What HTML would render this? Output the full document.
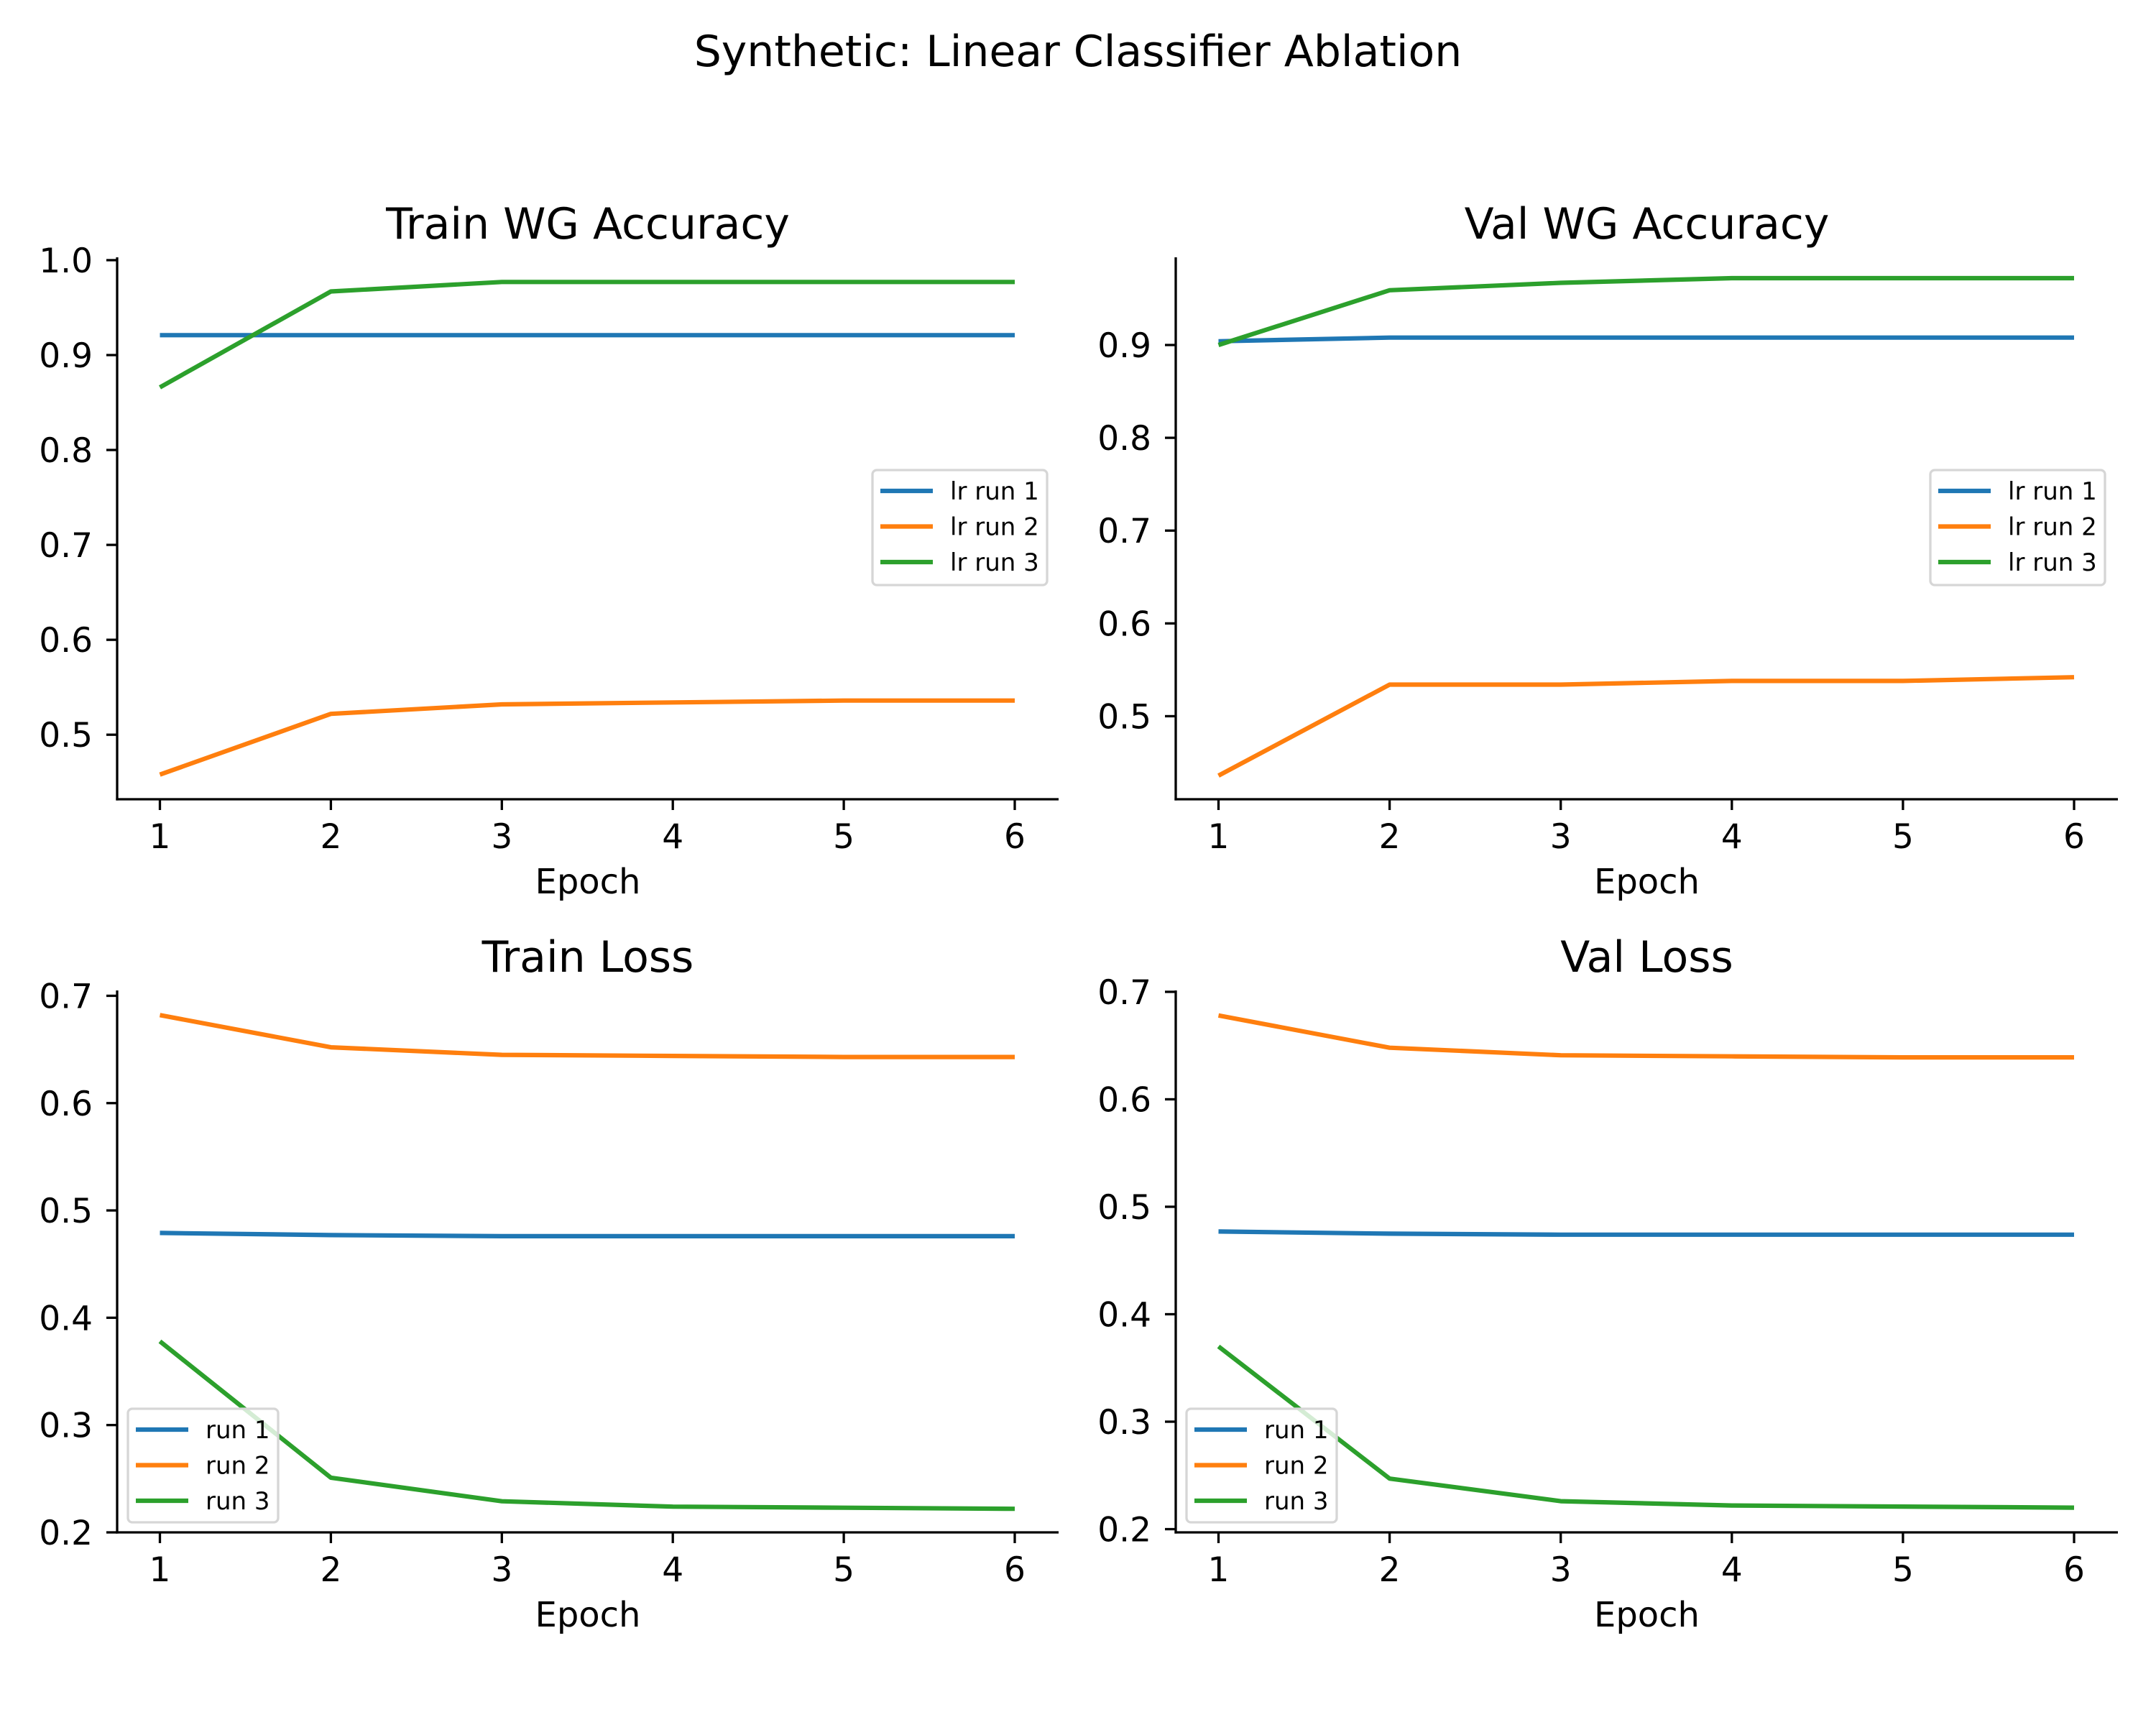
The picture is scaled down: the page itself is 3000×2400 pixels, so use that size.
<!DOCTYPE html>
<html><head><meta charset="utf-8"><style>
html,body{margin:0;padding:0;background:#fff;}
svg{display:block;font-family:"DejaVu Sans","Liberation Sans",sans-serif;}
</style></head><body>
<svg id="fig" width="3000" height="2400" viewBox="0 0 3000 2400" xmlns="http://www.w3.org/2000/svg">
<rect width="3000" height="2400" fill="#fff"/>
<text x="1500" y="92" font-size="60" text-anchor="middle">Synthetic: Linear Classifier Ablation</text>
</svg>
<script>
const epochs = [1, 2, 3, 4, 5, 6];
const trainAccRun1 = [0.921, 0.921, 0.921, 0.921, 0.921, 0.921];
const trainAccRun2 = [0.458, 0.522, 0.532, 0.534, 0.536, 0.536];
const trainAccRun3 = [0.866, 0.967, 0.977, 0.977, 0.977, 0.977];
const valAccRun1 = [0.904, 0.908, 0.908, 0.908, 0.908, 0.908];
const valAccRun2 = [0.436, 0.534, 0.534, 0.538, 0.538, 0.542];
const valAccRun3 = [0.900, 0.959, 0.967, 0.972, 0.972, 0.972];
const trainLossRun1 = [0.479, 0.477, 0.476, 0.476, 0.476, 0.476];
const trainLossRun2 = [0.682, 0.652, 0.645, 0.644, 0.643, 0.643];
const trainLossRun3 = [0.378, 0.251, 0.229, 0.224, 0.223, 0.222];
const valLossRun1 = [0.477, 0.475, 0.474, 0.474, 0.474, 0.474];
const valLossRun2 = [0.678, 0.648, 0.641, 0.640, 0.639, 0.639];
const valLossRun3 = [0.370, 0.247, 0.226, 0.222, 0.221, 0.220];
const accTicks = [0.5, 0.6, 0.7, 0.8, 0.9, 1.0];
const valAccTicks = [0.5, 0.6, 0.7, 0.8, 0.9];
const lossTicks = [0.2, 0.3, 0.4, 0.5, 0.6, 0.7];
const accLegend = ["lr run 1", "lr run 2", "lr run 3"];
const lossLegend = ["run 1", "run 2", "run 3"];
const colors = ["#1f77b4", "#ff7f0e", "#2ca02c"];

const NS = "http://www.w3.org/2000/svg";
const svg = document.getElementById("fig");
function mk(tag, attrs, parent) {
  const e = document.createElementNS(NS, tag);
  for (const k in attrs) e.setAttribute(k, attrs[k]);
  (parent || svg).appendChild(e);
  return e;
}

const panels = [
  {key:"train-acc", title:"Train WG Accuracy", L:163, R:1473, T:358, B:1112, ymin:0.432, ymax:1.003, ticks:accTicks, series:[trainAccRun1,trainAccRun2,trainAccRun3], legend:accLegend, lg:{x:1214,y:654,w:243,h:160}},
  {key:"val-acc", title:"Val WG Accuracy", L:1636, R:2947, T:358, B:1112, ymin:0.4105, ymax:0.9945, ticks:valAccTicks, series:[valAccRun1,valAccRun2,valAccRun3], legend:accLegend, lg:{x:2686,y:654,w:243,h:160}},
  {key:"train-loss", title:"Train Loss", L:163, R:1473, T:1378, B:2132, ymin:0.2, ymax:0.705, ticks:lossTicks, series:[trainLossRun1,trainLossRun2,trainLossRun3], legend:lossLegend, lg:{x:178,y:1960,w:209,h:158}},
  {key:"val-loss", title:"Val Loss", L:1636, R:2947, T:1378, B:2132, ymin:0.197, ymax:0.7013, ticks:lossTicks, series:[valLossRun1,valLossRun2,valLossRun3], legend:lossLegend, lg:{x:1651,y:1960,w:209,h:158}}
];

panels.forEach(p => {
  const g = mk("g", {});
  
  
  const x0 = p.L + 59.5, x1 = p.R - 61;
  const xs = e => x0 + (e - 1) * (x1 - x0) / 5;
  const ys = v => p.B - (v - p.ymin) / (p.ymax - p.ymin) * (p.B - p.T);

  p.series.forEach((vals, i) => {
    const pts = vals.map((v, j) => xs(epochs[j]).toFixed(1) + "," + ys(v).toFixed(1)).join(" ");
    const pl = mk("polyline", {points: pts, fill: "none", stroke: colors[i], "stroke-width": 6.2, "stroke-linejoin": "round", "stroke-linecap": "butt"}, g);
    
    
  });

  const sl = mk("line", {x1: p.L, y1: p.T, x2: p.L, y2: p.B + 1.6, stroke: "#000", "stroke-width": 3.3}, g);
  
  
  const sb = mk("line", {x1: p.L - 1.6, y1: p.B, x2: p.R, y2: p.B, stroke: "#000", "stroke-width": 3.3}, g);
  
  

  epochs.forEach(e => {
    const x = xs(e);
    mk("line", {x1: x, y1: p.B, x2: x, y2: p.B + 15, stroke: "#000", "stroke-width": 3.3}, g);
    const t = mk("text", {x: x, y: p.B + 68, "font-size": 47, "text-anchor": "middle"}, g);
    
    
    t.textContent = String(e);
  });
  p.ticks.forEach(v => {
    const y = ys(v);
    mk("line", {x1: p.L - 15, y1: y, x2: p.L, y2: y, stroke: "#000", "stroke-width": 3.3}, g);
    const t = mk("text", {x: p.L - 34, y: y + 17, "font-size": 47, "text-anchor": "end"}, g);
    
    
    t.textContent = v.toFixed(1);
  });

  const tt = mk("text", {x: (p.L + p.R) / 2, y: p.T - 26, "font-size": 60, "text-anchor": "middle"}, g);
  
  
  tt.textContent = p.title;
  const xl = mk("text", {x: (p.L + p.R) / 2, y: p.B + 131, "font-size": 48, "text-anchor": "middle"}, g);
  
  
  xl.textContent = "Epoch";

  const lg = mk("g", {}, g);
  
  
  mk("rect", {x: p.lg.x, y: p.lg.y, width: p.lg.w, height: p.lg.h, rx: 6, fill: "#fff", "fill-opacity": 0.8, stroke: "#d6d6d6", "stroke-width": 3.3}, lg);
  p.legend.forEach((lab, i) => {
    const cy = p.lg.y + 29 + i * 49.5;
    const ent = mk("g", {}, lg);
    
    
    mk("line", {x1: p.lg.x + 11, y1: cy, x2: p.lg.x + 84, y2: cy, stroke: colors[i], "stroke-width": 6.2}, ent);
    const t = mk("text", {x: p.lg.x + 108, y: cy + 12, "font-size": 34}, ent);
    t.textContent = lab;
  });
});
</script>
</body></html>
